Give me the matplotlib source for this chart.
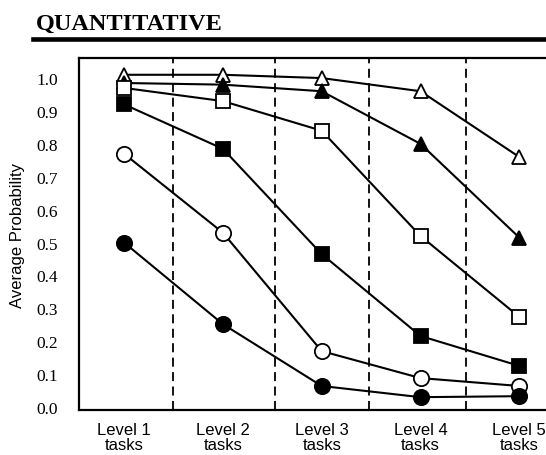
import matplotlib

matplotlib.use("Agg")

import matplotlib.pyplot as plt
from matplotlib.lines import Line2D

levels = ["Level 1\ntasks", "Level 2\ntasks", "Level 3\ntasks",
          "Level 4\ntasks", "Level 5\ntasks"]

# average probabilities (top curve first)
open_triangle = [1.01, 1.01, 1.00, 0.96, 0.76]
filled_triangle = [0.985, 0.98, 0.96, 0.80, 0.515]
open_square = [0.97, 0.93, 0.84, 0.52, 0.274]
filled_square = [0.92, 0.785, 0.465, 0.216, 0.125]
open_circle = [0.77, 0.53, 0.17, 0.088, 0.064]
filled_circle = [0.50, 0.252, 0.064, 0.03, 0.033]

y_ticks = [0.0, 0.1, 0.2, 0.3, 0.4, 0.5, 0.6, 0.7, 0.8, 0.9, 1.0]
dividers = [0.5, 1.53, 2.48, 3.46]

series = [
    (open_triangle, "^", "white"),
    (filled_triangle, "^", "black"),
    (open_square, "s", "white"),
    (filled_square, "s", "black"),
    (open_circle, "o", "white"),
    (filled_circle, "o", "black"),
]
marker_sizes = {"^": 10, "s": 9.5, "o": 11}

W, H = 546, 456
fig = plt.figure(figsize=(W / 100, H / 100), dpi=100)

# title and the heavy rule under it
fig.text(36 / W, 1 - 30 / H, "QUANTITATIVE", family="Liberation Serif",
         fontweight="bold", fontsize=17.5, ha="left", va="baseline")
fig.add_artist(Line2D([33 / W, 1.0], [1 - 39.5 / H, 1 - 39.5 / H],
                      color="black", linewidth=3.3))

ax = fig.add_axes([79 / W, 1 - 411 / H, 1 - 79 / W, (411 - 59) / H])

x = list(range(len(levels)))
for values, marker, face in series:
    ax.plot(x, values, color="black", linewidth=1.5, marker=marker,
            markersize=marker_sizes[marker], markerfacecolor=face,
            markeredgecolor="black", markeredgewidth=1.3, zorder=3)

for d in dividers:
    ax.axvline(d, color="black", linestyle=(0, (5, 3)), linewidth=1.3,
               zorder=1)

ax.set_xlim(-0.456, 4.27)
ax.set_ylim(-0.009, 1.061)

ax.set_yticks(y_ticks)
ax.set_yticklabels(["%.1f" % v for v in y_ticks], family="Liberation Serif",
                   fontsize=12.5)
ax.set_xticks(x)
ax.set_xticklabels(levels, family="Liberation Sans", fontsize=12,
                   linespacing=0.95)
ax.tick_params(axis="y", length=0, pad=15)
ax.tick_params(axis="x", length=0, pad=9)

ax.set_ylabel("Average Probability", family="Liberation Sans", fontsize=12,
              labelpad=8)

ax.spines["right"].set_visible(False)
for side in ["left", "top", "bottom"]:
    ax.spines[side].set_linewidth(1.6)

fig.savefig("out.png", dpi=100)
